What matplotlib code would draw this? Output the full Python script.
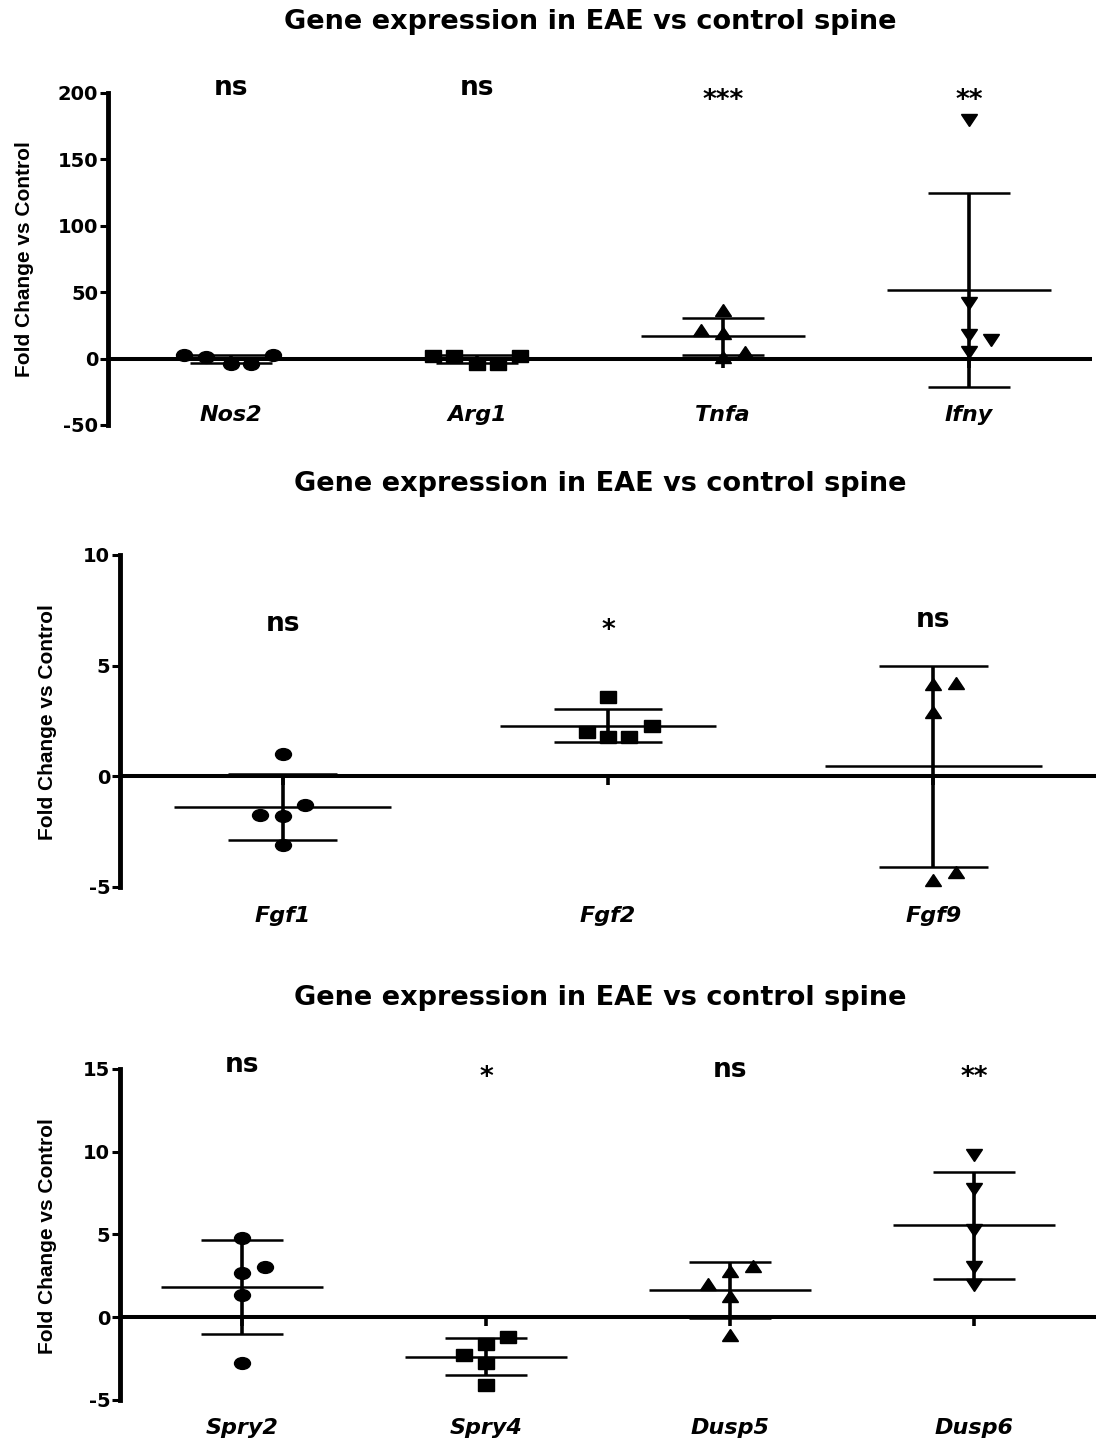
import numpy as np
import matplotlib
matplotlib.use("Agg")
import matplotlib.pyplot as plt
from matplotlib.markers import MarkerStyle
from matplotlib.path import Path
from matplotlib.transforms import Affine2D, blended_transform_factory, offset_copy

TITLE = "Gene expression in EAE vs control spine"
YLABEL = "Fold Change vs Control"

# Panel 1: inflammatory markers (fold change, EAE vs control)
genes_1 = ["Nos2", "Arg1", "Tnfa", "Ifny"]
nos2 = [2.5, 1.3, -3.8, -3.8, 2.5]
arg1 = [2.0, 2.0, -3.8, -3.8, 2.0]
tnfa = [36.5, 21.5, 19.0, 5.0, 1.5]
ifny = [179.7, 41.8, 17.7, 14.0, 5.0]
sig_1 = ["ns", "ns", "***", "**"]
yticks_1 = [-50, 0, 50, 100, 150, 200]

# Panel 2: FGF ligands
genes_2 = ["Fgf1", "Fgf2", "Fgf9"]
fgf1 = [1.0, -1.3, -1.75, -1.8, -3.1]
fgf2 = [3.56, 2.0, 1.77, 1.77, 2.27]
fgf9 = [4.15, 4.2, 2.9, -4.67, -4.33]
sig_2 = ["ns", "*", "ns"]
yticks_2 = [-5, 0, 5, 10]

# Panel 3: FGF pathway feedback genes
genes_3 = ["Spry2", "Spry4", "Dusp5", "Dusp6"]
spry2 = [4.78, 3.02, 2.66, 1.35, -2.78]
spry4 = [-4.09, -2.74, -2.28, -1.61, -1.17]
dusp5 = [3.12, 2.82, 2.0, 1.27, -1.1]
dusp6 = [9.78, 7.76, 5.24, 3.02, 1.92]
sig_3 = ["ns", "*", "ns", "**"]
yticks_3 = [-5, 0, 5, 10, 15]

# Horizontal scatter of overlapping points (category units)
jitter_1 = [[-0.19, -0.10, 0, 0.08, 0.17],
            [-0.18, -0.095, 0, 0.087, 0.174],
            [0, -0.09, 0, 0.09, 0],
            [0, 0, 0, 0.09, 0]]
jitter_2 = [[0, 0.07, -0.07, 0, 0],
            [0, -0.065, 0, 0.065, 0.135],
            [0, 0.07, 0, 0, 0.07]]
jitter_3 = [[0, 0.095, 0, 0, 0],
            [0, 0, -0.09, 0, 0.09],
            [0.095, 0, -0.09, 0, 0],
            [0, 0, 0, 0, 0]]

MAIN_FONT = "DejaVu Sans"
LABEL_FONT = "Liberation Sans"
plt.rcParams["font.family"] = [MAIN_FONT]
plt.rcParams["font.weight"] = "bold"
plt.rcParams["axes.unicode_minus"] = False

STRETCH = Affine2D().scale(1.35, 1.0)
STUB = MarkerStyle(Path([(0, 0), (0, -1)]))


def draw_panel(fig, rect, genes, groups, jitters, markers, sig, sig_y,
               yticks, label_y):
    ax = fig.add_axes(rect)
    n = len(genes)
    x = np.arange(1, n + 1)
    ax.set_xlim(0.5, n + 0.5)
    ax.set_ylim(yticks[0], yticks[-1])
    ax.axhline(0, color="black", lw=2.9, zorder=2)

    for xi, vals, jit, m in zip(x, groups, jitters, markers):
        vals = np.asarray(vals, dtype=float)
        mean = vals.mean()
        sd = vals.std(ddof=1)
        ax.plot(xi + np.asarray(jit), vals, linestyle="none",
                marker=MarkerStyle(m, transform=STRETCH), ms=8.5,
                color="black", zorder=4, clip_on=False)
        ax.hlines(mean, xi - 0.333, xi + 0.333, color="black", lw=1.8, zorder=3)
        ax.hlines([mean - sd, mean + sd], xi - 0.167, xi + 0.167,
                  color="black", lw=1.8, zorder=3)
        ax.vlines(xi, mean - sd, mean + sd, color="black", lw=2.6, zorder=3)

    # control baseline (fold change 0) for each gene
    control = np.zeros(n)
    ax.plot(x, control, linestyle="none", marker=STUB, ms=13, mew=2.6,
            color="black", zorder=3)

    for s in ("top", "right", "bottom"):
        ax.spines[s].set_visible(False)
    ax.spines["left"].set_linewidth(3.5)
    ax.set_xticks([])
    ax.set_yticks(yticks)
    ax.tick_params(axis="y", length=6, width=2.2, pad=1, labelsize=14)
    for t in ax.get_yticklabels():
        t.set_fontweight("bold")

    blend = blended_transform_factory(ax.transData, ax.transAxes)
    for xi, g in zip(x, genes):
        ax.text(xi, label_y, g, transform=blend, ha="center", va="center",
                fontsize=16, fontweight="bold", fontstyle="italic")

    fs = 19
    for xi, s, sy in zip(x, sig, sig_y):
        shift = 0.58 if s.startswith("*") else 0.28
        tr = offset_copy(blend, fig=fig, x=0, y=-shift * fs, units="points")
        ax.text(xi, sy, s, transform=tr, ha="center", va="baseline",
                fontsize=fs, fontweight="bold", clip_on=False)
    return ax


fig = plt.figure(figsize=(10.96, 14.41), dpi=100)

draw_panel(fig, [0.0985, 0.7051, 0.898, 0.2304], genes_1,
           [nos2, arg1, tnfa, ifny], jitter_1, ["o", "s", "^", "v"],
           sig_1, [1.0166, 1.0166, 1.0, 1.0], yticks_1, 0.03)
draw_panel(fig, [0.1095, 0.3845, 0.8905, 0.2304], genes_2,
           [fgf1, fgf2, fgf9], jitter_2, ["o", "s", "^"],
           sig_2, [0.792, 0.795, 0.806], yticks_2, -0.087)
draw_panel(fig, [0.1095, 0.0285, 0.8905, 0.2297], genes_3,
           [spry2, spry4, dusp5, dusp6], jitter_3, ["o", "s", "^", "v"],
           sig_3, [1.0136, 0.997, 0.9985, 0.997], yticks_3, -0.085)

for tx, ty in [(0.539, 0.9847), (0.548, 0.6641), (0.548, 0.3074)]:
    fig.text(tx, ty, TITLE, ha="center", va="center", fontsize=19.5,
             fontweight="bold")

for lx, ly in [(0.0219, 0.8203), (0.0429, 0.4990), (0.0429, 0.1423)]:
    fig.text(lx, ly, YLABEL, rotation=90, ha="center", va="center",
             fontsize=15, fontweight="bold", family=LABEL_FONT)

fig.savefig("out.png", dpi=100)
